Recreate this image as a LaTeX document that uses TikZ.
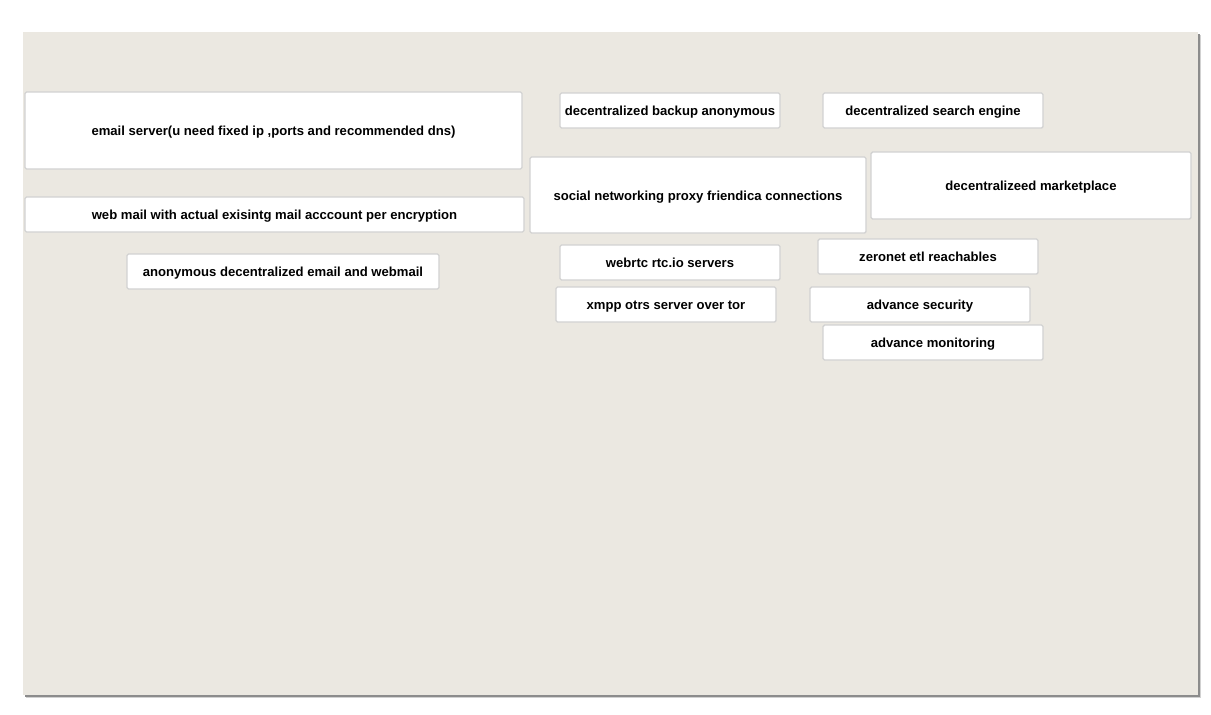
\documentclass[tikz,border=0pt]{standalone}
\usepackage{fontspec}
\setmainfont{Liberation Sans}
\definecolor{panel}{HTML}{EBE8E1}
\definecolor{boxline}{HTML}{D2D2D2}
\definecolor{shadowc}{HTML}{8C8C8C}
\begin{document}
\begin{tikzpicture}[x=1pt,y=-1pt,
  box/.style={draw=boxline, line width=1.4pt, fill=white, rounded corners=1.5pt,
    inner sep=0pt, text height=11pt, text depth=0.6pt,
    font=\fontsize{13.1}{15}\selectfont\bfseries, text=black}]
\useasboundingbox (0,0) rectangle (1211,715);
\fill[white] (0,0) rectangle (1211,715);
\fill[shadowc!40] (26,35) rectangle (1201,698);
\fill[shadowc] (25,34) rectangle (1199.5,696.5);
\fill[panel] (23,32) rectangle (1197.5,694.5);
% nodes: centre (x,y), width, height
\node[box, minimum width=497pt, minimum height=77pt] (email) at (273.5,130.5) {email server(u need fixed ip ,ports and recommended dns)};
\node[box, minimum width=499pt, minimum height=35pt] (webmail) at (274.5,214.5) {web mail with actual exisintg mail acccount per encryption};
\node[box, minimum width=312pt, minimum height=35pt] (anon) at (283,271.5) {anonymous decentralized email and webmail};
\node[box, minimum width=220pt, minimum height=35pt] (backup) at (670,110.5) {decentralized backup anonymous};
\node[box, minimum width=220pt, minimum height=35pt] (search) at (933,110.5) {decentralized search engine};
\node[box, minimum width=336pt, minimum height=76pt] (social) at (698,195) {social networking proxy friendica connections};
\node[box, minimum width=320pt, minimum height=67pt] (market) at (1031,185.5) {decentralizeed marketplace};
\node[box, minimum width=220pt, minimum height=35pt] (webrtc) at (670,262.5) {webrtc rtc.io servers};
\node[box, minimum width=220pt, minimum height=35pt] (zeronet) at (928,256.5) {zeronet etl reachables};
\node[box, minimum width=220pt, minimum height=35pt] (xmpp) at (666,304.5) {xmpp otrs server over tor};
\node[box, minimum width=220pt, minimum height=35pt] (security) at (920,304.5) {advance security};
\node[box, minimum width=220pt, minimum height=35pt] (monitor) at (933,342.5) {advance monitoring};
\end{tikzpicture}
\end{document}
